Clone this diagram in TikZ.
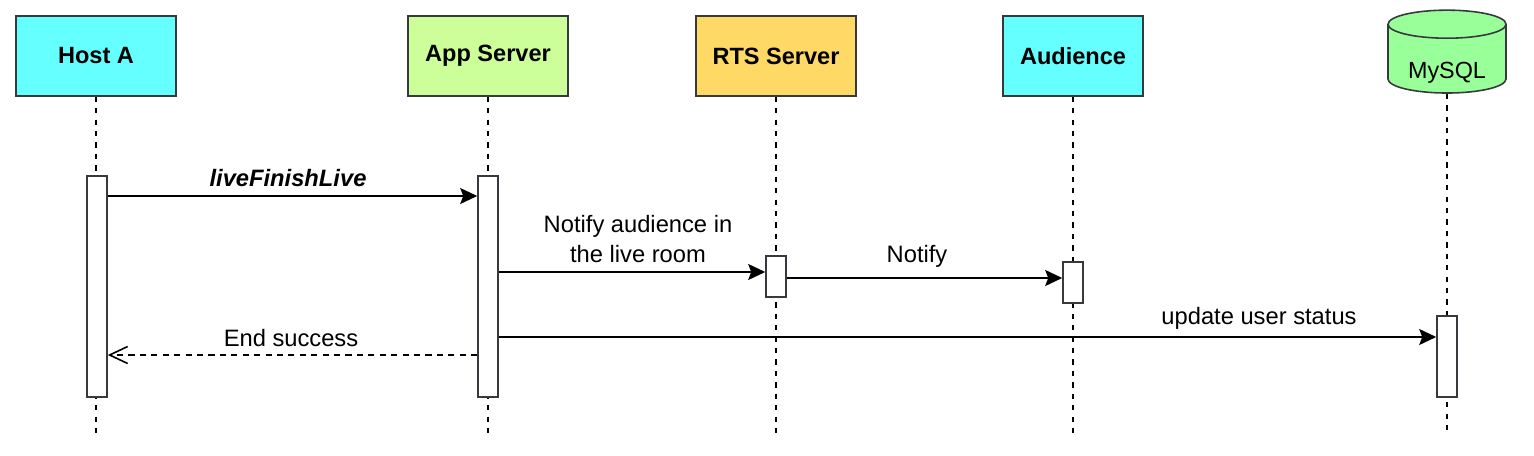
\documentclass[tikz,border=0pt]{standalone}
\usepackage{fontspec}
\setmainfont{Liberation Sans}
\usetikzlibrary{arrows.meta,shapes.geometric}
\definecolor{hostfill}{RGB}{102,255,255}
\definecolor{appfill}{RGB}{204,255,153}
\definecolor{rtsfill}{RGB}{255,217,102}
\definecolor{dbfill}{RGB}{153,255,153}
\definecolor{edge}{RGB}{54,57,61}
\tikzset{
  actor/.style={draw=edge, line width=0.9pt, minimum width=3.2cm, minimum height=1.6cm,
    font=\fontsize{13.4}{16}\selectfont\bfseries},
  dbase/.style={cylinder, shape border rotate=90, aspect=0.36, draw=edge, line width=0.9pt,
    fill=dbfill, minimum width=2.36cm, minimum height=1.64cm, inner sep=0pt,
    font=\fontsize{13.3}{16}\selectfont},
  actbar/.style={draw=edge, fill=white, line width=0.9pt, minimum width=0.4cm, inner sep=0pt},
  life/.style={line width=0.9pt, dash pattern=on 3pt off 3.5pt},
  msg/.style={line width=0.9pt, -{Stealth[length=0.34cm,width=0.32cm,inset=0.06cm]}},
  reply/.style={line width=0.9pt, dash pattern=on 3.5pt off 3pt,
    -{Straight Barb[length=0.36cm,width=0.34cm,line width=0.9pt]}},
  lbl/.style={font=\fontsize{13.5}{17}\selectfont, align=center, inner sep=0pt}
}
\begin{document}
\begin{tikzpicture}[x=0.02cm, y=-0.02cm]
  \def\lo{436}
  \useasboundingbox (0,0) rectangle (1534,456);

  % Participants
  \node[actor, fill=hostfill] (host) at (96,56) {Host A};
  \node[actor, fill=appfill] (app) at (488,56) {App Server};
  \node[actor, fill=rtsfill] (rts) at (776,56) {RTS Server};
  \node[actor, fill=hostfill, minimum width=2.8cm] (aud) at (1073,56) {Audience};
  \node[dbase] (db) at (1447,59) {\raisebox{0pt}[0.8cm][0pt]{MySQL}};

  % Lifelines
  \foreach \p in {host,app,rts,aud,db} {
    \draw[life] (\p.south) -- (\p.south |- 0,\lo);
  }

  % Activation bars
  \node[actbar, minimum height=4.42cm] (hostAct) at (97,286.5) {};
  \node[actbar, minimum height=4.42cm] (appAct) at (488,286.5) {};
  \node[actbar, minimum height=0.82cm] (rtsAct) at (776,276.5) {};
  \node[actbar, minimum height=0.82cm] (audAct) at (1073,282.5) {};
  \node[actbar, minimum height=1.62cm] (dbAct) at (1447,356.5) {};

  % Messages
  \draw[msg] (hostAct.east |- 0,196) -- (appAct.west |- 0,196);
  \draw[msg] (appAct.east |- 0,272) -- (rtsAct.west |- 0,272);
  \draw[msg] (rtsAct.east |- 0,278) -- (audAct.west |- 0,278);
  \draw[msg] (appAct.east |- 0,337) -- (dbAct.west |- 0,337);
  \draw[reply] (appAct.west |- 0,355) -- (hostAct.east |- 0,355);

  % Message labels
  \node[lbl, font=\fontsize{13.5}{16}\selectfont\bfseries\itshape] (m1) at (288,178) {liveFinishLive};
  \node[lbl] (m2) at (638,239) {Notify audience in\\the live room};
  \node[lbl] (m3) at (917,256) {Notify};
  \node[lbl] (m4) at (1259,318) {update user status};
  \node[lbl] (m5) at (291,338) {End success};
\end{tikzpicture}
\end{document}
